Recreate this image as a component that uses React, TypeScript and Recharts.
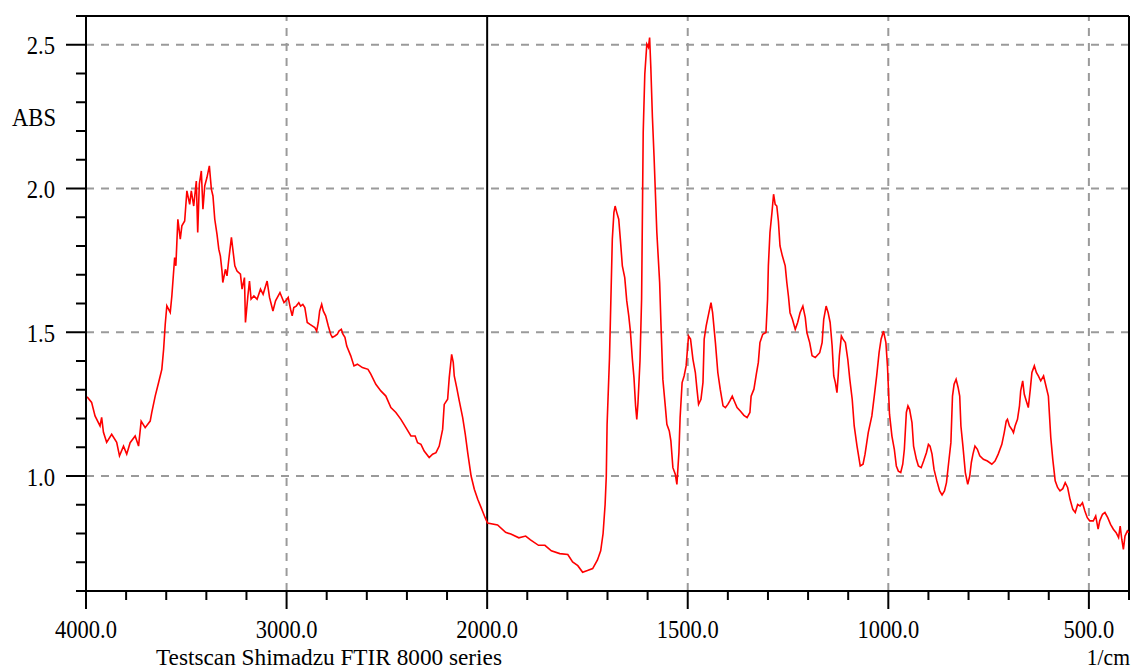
import React from "react";
import { LineChart, Line, XAxis, YAxis, ReferenceLine } from "recharts";

// Wavenumbers (1/cm) and absorbance
const wavenumbers = [
  3998, 3992, 3972, 3955, 3930, 3922, 3913, 3897, 3872, 3847,
  3833, 3813, 3797, 3780, 3755, 3738, 3725, 3705, 3680, 3672,
  3655, 3638, 3622, 3613, 3605, 3597, 3580, 3572, 3558, 3552,
  3542, 3530, 3522, 3508, 3497, 3483, 3475, 3463, 3450, 3443,
  3435, 3425, 3417, 3408, 3397, 3385, 3375, 3367, 3358, 3347,
  3338, 3330, 3322, 3318, 3305, 3297, 3288, 3275, 3268, 3258,
  3247, 3230, 3222, 3210, 3205, 3193, 3185, 3177, 3163, 3147,
  3130, 3117, 3097, 3085, 3068, 3055, 3033, 3013, 3005, 2992,
  2980, 2972, 2964, 2952, 2939, 2930, 2919, 2909, 2897, 2885,
  2872, 2859, 2850, 2842, 2835, 2825, 2817, 2805, 2792, 2780,
  2772, 2759, 2747, 2739, 2727, 2719, 2709, 2700, 2680, 2664,
  2647, 2622, 2594, 2580, 2555, 2530, 2505, 2480, 2455, 2430,
  2405, 2380, 2359, 2347, 2330, 2314, 2289, 2272, 2255, 2239,
  2222, 2214, 2197, 2189, 2177, 2169, 2164, 2152, 2139, 2122,
  2109, 2097, 2080, 2064, 2047, 2030, 2010, 1999, 1974, 1954,
  1941, 1921, 1904, 1892, 1872, 1856, 1840, 1819, 1799, 1787,
  1774, 1762, 1750, 1737, 1725, 1717, 1711, 1706, 1703, 1701,
  1695, 1688, 1684, 1681, 1677, 1672, 1668, 1663, 1657, 1652,
  1647, 1643, 1638, 1634, 1630, 1627, 1624, 1619, 1615, 1611,
  1607, 1602, 1598, 1595, 1592, 1588, 1584, 1577, 1570, 1567,
  1562, 1556, 1552, 1546, 1542, 1537, 1531, 1527, 1522, 1519,
  1514, 1509, 1504, 1498, 1493, 1487, 1481, 1477, 1473, 1467,
  1462, 1459, 1454, 1448, 1442, 1438, 1431, 1425, 1419, 1412,
  1406, 1400, 1395, 1389, 1384, 1377, 1369, 1360, 1352, 1345,
  1342, 1335, 1329, 1324, 1320, 1313, 1305, 1301, 1299, 1295,
  1290, 1286, 1282, 1278, 1274, 1270, 1264, 1257, 1253, 1249,
  1245, 1239, 1232, 1226, 1220, 1213, 1207, 1203, 1196, 1190,
  1182, 1171, 1165, 1161, 1155, 1150, 1145, 1140, 1136, 1132,
  1128, 1125, 1122, 1117, 1113, 1107, 1101, 1096, 1090, 1085,
  1078, 1070, 1063, 1058, 1050, 1041, 1035, 1029, 1023, 1018,
  1012, 1006, 1002, 997, 991, 985, 980, 975, 969, 964,
  960, 955, 951, 947, 941, 937, 930, 925, 918, 912,
  905, 900, 896, 891, 886, 879, 872, 866, 860, 855,
  850, 844, 840, 836, 831, 826, 822, 819, 814, 808,
  802, 797, 793, 789, 784, 778, 772, 763, 753, 742,
  734, 726, 717, 711, 706, 703, 698, 692, 688, 684,
  678, 673, 670, 665, 661, 656, 651, 646, 642, 636,
  631, 626, 620, 613, 607, 601, 595, 590, 584, 578,
  572, 565, 559, 553, 547, 540, 534, 528, 522, 516,
  510, 504, 498, 489, 483, 477, 473, 466, 460, 453,
  446, 439, 432, 426, 422, 418, 414, 410, 404, 400,
];

const absorbance = [
  1.275, 1.273, 1.256, 1.209, 1.174, 1.204, 1.152, 1.117, 1.145, 1.117,
  1.070, 1.104, 1.076, 1.116, 1.139, 1.104, 1.191, 1.168, 1.191, 1.221,
  1.278, 1.325, 1.371, 1.441, 1.528, 1.592, 1.569, 1.626, 1.760, 1.731,
  1.893, 1.824, 1.870, 1.887, 1.992, 1.945, 1.992, 1.939, 2.026, 1.847,
  2.015, 2.061, 1.928, 2.009, 2.038, 2.079, 1.998, 1.974, 1.893, 1.841,
  1.789, 1.765, 1.713, 1.673, 1.719, 1.696, 1.754, 1.830, 1.789, 1.731,
  1.713, 1.702, 1.650, 1.690, 1.534, 1.626, 1.678, 1.615, 1.626, 1.615,
  1.650, 1.632, 1.678, 1.621, 1.574, 1.609, 1.638, 1.603, 1.609, 1.621,
  1.580, 1.557, 1.586, 1.591, 1.603, 1.591, 1.597, 1.586, 1.534, 1.528,
  1.522, 1.516, 1.504, 1.534, 1.574, 1.597, 1.574, 1.557, 1.522, 1.493,
  1.482, 1.487, 1.493, 1.504, 1.510, 1.493, 1.482, 1.452, 1.418, 1.383,
  1.389, 1.377, 1.371, 1.354, 1.319, 1.296, 1.278, 1.238, 1.221, 1.197,
  1.168, 1.139, 1.139, 1.116, 1.110, 1.087, 1.064, 1.076, 1.081, 1.104,
  1.162, 1.249, 1.267, 1.342, 1.423, 1.395, 1.348, 1.308, 1.261, 1.203,
  1.145, 1.081, 1.000, 0.954, 0.919, 0.890, 0.855, 0.836, 0.830, 0.804,
  0.798, 0.785, 0.791, 0.778, 0.759, 0.759, 0.740, 0.730, 0.727, 0.701,
  0.688, 0.665, 0.671, 0.678, 0.708, 0.740, 0.800, 0.900, 1.000, 1.180,
  1.412, 1.824, 1.917, 1.939, 1.917, 1.893, 1.824, 1.731, 1.690, 1.609,
  1.557, 1.504, 1.406, 1.342, 1.244, 1.197, 1.255, 1.400, 1.615, 2.195,
  2.398, 2.502, 2.491, 2.525, 2.421, 2.247, 2.113, 1.847, 1.673, 1.539,
  1.336, 1.244, 1.180, 1.157, 1.122, 1.029, 1.006, 0.971, 1.081, 1.203,
  1.325, 1.348, 1.383, 1.487, 1.476, 1.406, 1.360, 1.302, 1.249, 1.267,
  1.325, 1.476, 1.522, 1.563, 1.603, 1.568, 1.464, 1.360, 1.302, 1.244,
  1.238, 1.249, 1.261, 1.278, 1.261, 1.238, 1.226, 1.211, 1.203, 1.221,
  1.278, 1.302, 1.354, 1.395, 1.464, 1.493, 1.499, 1.615, 1.731, 1.847,
  1.917, 1.980, 1.945, 1.939, 1.887, 1.800, 1.765, 1.731, 1.673, 1.626,
  1.568, 1.545, 1.510, 1.534, 1.568, 1.591, 1.551, 1.499, 1.464, 1.418,
  1.412, 1.429, 1.464, 1.545, 1.591, 1.568, 1.534, 1.452, 1.348, 1.325,
  1.290, 1.348, 1.418, 1.487, 1.476, 1.464, 1.406, 1.336, 1.267, 1.174,
  1.104, 1.035, 1.041, 1.076, 1.151, 1.209, 1.278, 1.348, 1.429, 1.476,
  1.504, 1.464, 1.380, 1.215, 1.139, 1.093, 1.035, 1.017, 1.012, 1.041,
  1.093, 1.221, 1.244, 1.232, 1.186, 1.104, 1.058, 1.035, 1.029, 1.052,
  1.081, 1.110, 1.104, 1.076, 1.023, 0.983, 0.948, 0.934, 0.948, 0.977,
  1.041, 1.116, 1.278, 1.319, 1.336, 1.308, 1.278, 1.174, 1.104, 1.012,
  0.971, 1.000, 1.047, 1.076, 1.104, 1.093, 1.070, 1.058, 1.052, 1.041,
  1.052, 1.076, 1.110, 1.151, 1.191, 1.197, 1.174, 1.162, 1.151, 1.174,
  1.197, 1.244, 1.296, 1.331, 1.284, 1.261, 1.238, 1.302, 1.360, 1.383,
  1.360, 1.348, 1.331, 1.348, 1.313, 1.278, 1.134, 1.058, 0.983, 0.960,
  0.948, 0.956, 0.977, 0.960, 0.919, 0.884, 0.873, 0.901, 0.896, 0.907,
  0.878, 0.855, 0.844, 0.844, 0.861, 0.815, 0.844, 0.867, 0.873, 0.855,
  0.832, 0.815, 0.803, 0.786, 0.826, 0.780, 0.745, 0.791, 0.809, 0.803,
];

// Axis ticks
const xTickWavenumbers = [
  4000, 3800, 3600, 3400, 3200, 3000, 2800, 2600, 2400, 2200, 2000,
  1900, 1800, 1700, 1600, 1500, 1400, 1300, 1200, 1100, 1000,
  900, 800, 700, 600, 500, 400,
];
const xLabelWavenumbers = [4000, 3000, 2000, 1500, 1000, 500];
const xGridWavenumbers = [3000, 1500, 1000, 500];
const xBreakWavenumber = 2000;
const yTicks = [
  0.6, 0.7, 0.8, 0.9, 1.0, 1.1, 1.2, 1.3, 1.4, 1.5, 1.6,
  1.7, 1.8, 1.9, 2.0, 2.1, 2.2, 2.3, 2.4, 2.5, 2.6,
];
const yLabelTicks = [1.0, 1.5, 2.0, 2.5];
const yDomain = [0.6, 2.6];
const yAxisTitle = "ABS";
const xAxisUnit = "1/cm";
const footerText = "Testscan Shimadzu FTIR 8000 series";

// Instrument axis: 4000-2000 at half the scale of 2000-400
const pos = (w: number) => (w >= 2000 ? (4000 - w) * 0.2 : 400 + (2000 - w) * 0.4);
const X_MAX = pos(400);

const data = wavenumbers.map((w, i) => ({ x: pos(w), abs: absorbance[i] }));
const xTickPositions = xTickWavenumbers.map(pos);

const FONT = "'Liberation Serif', 'Times New Roman', serif";
const SX = 0.87;

const YTick = (props: any) => {
  const { x, y, payload } = props;
  const v = payload.value as number;
  const major = yLabelTicks.some((t) => Math.abs(t - v) < 1e-6);
  return (
    <g>
      <line x1={x - (major ? 20 : 10)} x2={x} y1={y} y2={y} stroke="#000" strokeWidth={2} />
      {major && (
        <text
          transform={`translate(${x - 31},${y + 9.5}) scale(${SX},1)`}
          textAnchor="end"
          fontFamily={FONT}
          fontSize={26}
          fill="#000"
        >
          {v.toFixed(1)}
        </text>
      )}
    </g>
  );
};

const XTick = (props: any) => {
  const { x, y, payload } = props;
  const idx = xTickPositions.findIndex((p) => Math.abs(p - payload.value) < 1e-6);
  const w = idx >= 0 ? xTickWavenumbers[idx] : 0;
  const major = xLabelWavenumbers.includes(w);
  return (
    <g>
      <line x1={x} x2={x} y1={y} y2={y + (major ? 18 : 9)} stroke="#000" strokeWidth={2} />
      {major && (
        <text
          transform={`translate(${x},${y + 47}) scale(0.9,1)`}
          textAnchor="middle"
          fontFamily={FONT}
          fontSize={25}
          fill="#000"
        >
          {w.toFixed(1)}
        </text>
      )}
    </g>
  );
};

const W = 1132;
const H = 671;

export default function App() {
  return (
    <div style={{ position: "absolute", left: 0, top: 0, width: W, height: H, background: "#fff" }}>
      <LineChart
        width={W}
        height={H}
        data={data}
        margin={{ top: 16, right: 3, left: 26, bottom: 20 }}
      >
        <XAxis
          dataKey="x"
          type="number"
          domain={[0, X_MAX]}
          ticks={xTickPositions}
          interval={0}
          tick={<XTick />}
          tickLine={false}
          tickSize={0}
          tickMargin={0}
          height={60}
          axisLine={{ stroke: "#000", strokeWidth: 2 }}
          allowDataOverflow
        />
        <YAxis
          type="number"
          domain={yDomain}
          ticks={yTicks}
          interval={0}
          tick={<YTick />}
          tickLine={false}
          tickSize={0}
          tickMargin={0}
          width={60}
          axisLine={{ stroke: "#000", strokeWidth: 2 }}
          allowDataOverflow
        />
        {yLabelTicks.map((v) => (
          <ReferenceLine key={"h" + v} y={v} stroke="#9a9a9a" strokeWidth={2} strokeDasharray="8 7" />
        ))}
        {xGridWavenumbers.map((w) => (
          <ReferenceLine key={"v" + w} x={pos(w)} stroke="#9a9a9a" strokeWidth={2} strokeDasharray="8 7" />
        ))}
        <ReferenceLine x={pos(xBreakWavenumber)} stroke="#000" strokeWidth={2} />
        <ReferenceLine y={yDomain[1]} stroke="#000" strokeWidth={2} />
        <ReferenceLine x={X_MAX} stroke="#000" strokeWidth={2} />
        <Line
          type="linear"
          dataKey="abs"
          stroke="#ff0000"
          strokeWidth={1.6}
          dot={false}
          activeDot={false}
          isAnimationActive={false}
        />
      </LineChart>
      <svg
        width={W}
        height={H}
        style={{ position: "absolute", left: 0, top: 0, pointerEvents: "none" }}
      >
        <text transform={`translate(12,126) scale(${SX},1)`} fontFamily={FONT} fontSize={26} fill="#000">
          {yAxisTitle}
        </text>
        <text transform={`translate(156,665) scale(0.97,1)`} fontFamily={FONT} fontSize={24} fill="#000">
          {footerText}
        </text>
        <text transform={`translate(1130,665) scale(0.9,1)`} textAnchor="end" fontFamily={FONT} fontSize={24} fill="#000">
          {xAxisUnit}
        </text>
      </svg>
    </div>
  );
}
